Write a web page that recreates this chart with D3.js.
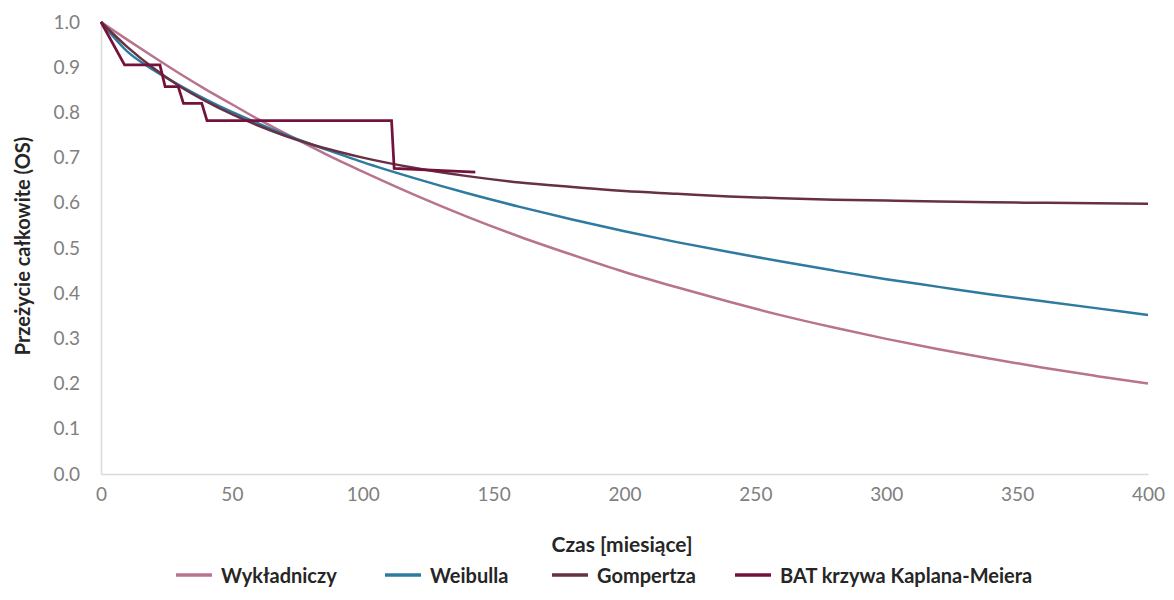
<!DOCTYPE html>
<html>
<head>
<meta charset="utf-8">
<script src="https://cdn.jsdelivr.net/npm/d3@7"></script>
<style>
  html, body { margin: 0; padding: 0; background: #ffffff; }
  svg { display: block; }
</style>
</head>
<body>
<svg id="chart" width="1174" height="600"></svg>
<script>
// ---- Data ----
const months = [0, 10, 20, 30, 40, 50, 60, 70, 80, 90, 100, 120, 140, 160, 180, 200,
                220, 240, 260, 280, 300, 320, 340, 360, 380, 400];
const exponential = [1.0, 0.961, 0.923, 0.886, 0.851, 0.818, 0.785, 0.755, 0.725, 0.696, 0.669,
                     0.617, 0.569, 0.525, 0.485, 0.447, 0.413, 0.381, 0.351, 0.324, 0.299,
                     0.276, 0.255, 0.235, 0.217, 0.200];
const weibull = [1.0, 0.935, 0.894, 0.860, 0.829, 0.801, 0.776, 0.752, 0.730, 0.710, 0.690,
                 0.654, 0.621, 0.591, 0.563, 0.537, 0.513, 0.491, 0.470, 0.450, 0.431,
                 0.414, 0.397, 0.382, 0.367, 0.352];
const gompertz = [1.0, 0.945, 0.898, 0.858, 0.825, 0.796, 0.771, 0.749, 0.730, 0.714, 0.700,
                  0.677, 0.659, 0.645, 0.635, 0.626, 0.620, 0.614, 0.610, 0.607, 0.605,
                  0.603, 0.601, 0.600, 0.599, 0.598];
const kmMonths = [0, 9, 22.5, 24.5, 29.5, 31.5, 38.5, 40.5, 111, 112, 143];
const kmSurvival = [1.0, 0.905, 0.905, 0.857, 0.857, 0.820, 0.820, 0.782, 0.782, 0.676, 0.668];

const xTicks = [0, 50, 100, 150, 200, 250, 300, 350, 400];
const yTicks = [0, 0.1, 0.2, 0.3, 0.4, 0.5, 0.6, 0.7, 0.8, 0.9, 1.0];
const seriesNames = ["Wykładniczy", "Weibulla", "Gompertza", "BAT krzywa Kaplana-Meiera"];
const seriesColors = ["#b8738f", "#2f7aa0", "#663142", "#74123c"];
const xTitle = "Czas [miesiące]";
const yTitle = "Przeżycie całkowite (OS)";

// ---- Layout ----
const svg = d3.select("#chart");
const plotLeft = 101, plotRight = 1148, plotTop = 22, plotBottom = 474;
const x = d3.scaleLinear().domain([0, 400]).range([plotLeft, plotRight]);
const y = d3.scaleLinear().domain([0, 1]).range([plotBottom, plotTop]);

const fontFamily = "Lato, 'Open Sans', sans-serif";

// axes
const xAxis = d3.axisBottom(x).tickValues(xTicks).tickSize(0).tickPadding(14)
  .tickFormat(d3.format("d"));
const yAxis = d3.axisLeft(y).tickValues(yTicks).tickSize(0).tickPadding(21)
  .tickFormat(d3.format(".1f"));

const gx = svg.append("g").attr("transform", `translate(0,${plotBottom})`).call(xAxis);
const gy = svg.append("g").attr("transform", `translate(${plotLeft},0)`).call(yAxis);
[gx, gy].forEach(g => {
  g.select(".domain").attr("stroke", "#d9d9d9").attr("stroke-width", 1.5);
  g.selectAll("text").attr("fill", "#808080").style("font-family", fontFamily)
    .style("font-size", "19px");
});

// lines
const line = d3.line().x(d => x(d[0])).y(d => y(d[1])).curve(d3.curveMonotoneX);
const kmLine = d3.line().x(d => x(d[0])).y(d => y(d[1])).curve(d3.curveLinear);

const curves = [exponential, weibull, gompertz];
curves.forEach((vals, i) => {
  svg.append("path")
    .datum(months.map((m, j) => [m, vals[j]]))
    .attr("fill", "none")
    .attr("stroke", seriesColors[i])
    .attr("stroke-width", 2.5)
    .attr("stroke-linejoin", "round")
    .attr("d", line);
});
svg.append("path")
  .datum(kmMonths.map((m, j) => [m, kmSurvival[j]]))
  .attr("fill", "none")
  .attr("stroke", seriesColors[3])
  .attr("stroke-width", 2.75)
  .attr("stroke-linejoin", "miter")
  .attr("d", kmLine);

// titles
svg.append("text")
  .attr("x", 622).attr("y", 543)
  .attr("text-anchor", "middle").attr("dominant-baseline", "central")
  .style("font-family", fontFamily).style("font-weight", "bold").style("font-size", "21px")
  .attr("fill", "#262626")
  .text(xTitle);
svg.append("text")
  .attr("transform", "translate(22,246) rotate(-90)")
  .attr("text-anchor", "middle").attr("dominant-baseline", "central")
  .style("font-family", fontFamily).style("font-weight", "bold").style("font-size", "20px")
  .attr("fill", "#262626")
  .text(yTitle);

// legend
const legendX = [176, 385, 552, 735];
const legend = svg.append("g");
seriesNames.forEach((name, i) => {
  const g = legend.append("g").attr("transform", `translate(${legendX[i]},575)`);
  g.append("line").attr("x1", 0).attr("x2", 36).attr("y1", 0).attr("y2", 0)
    .attr("stroke", seriesColors[i]).attr("stroke-width", 3.5);
  g.append("text").attr("x", 45).attr("y", 0).attr("dominant-baseline", "central")
    .style("font-family", fontFamily).style("font-weight", "bold").style("font-size", "20px")
    .attr("fill", "#262626")
    .text(name);
});
</script>
</body>
</html>
